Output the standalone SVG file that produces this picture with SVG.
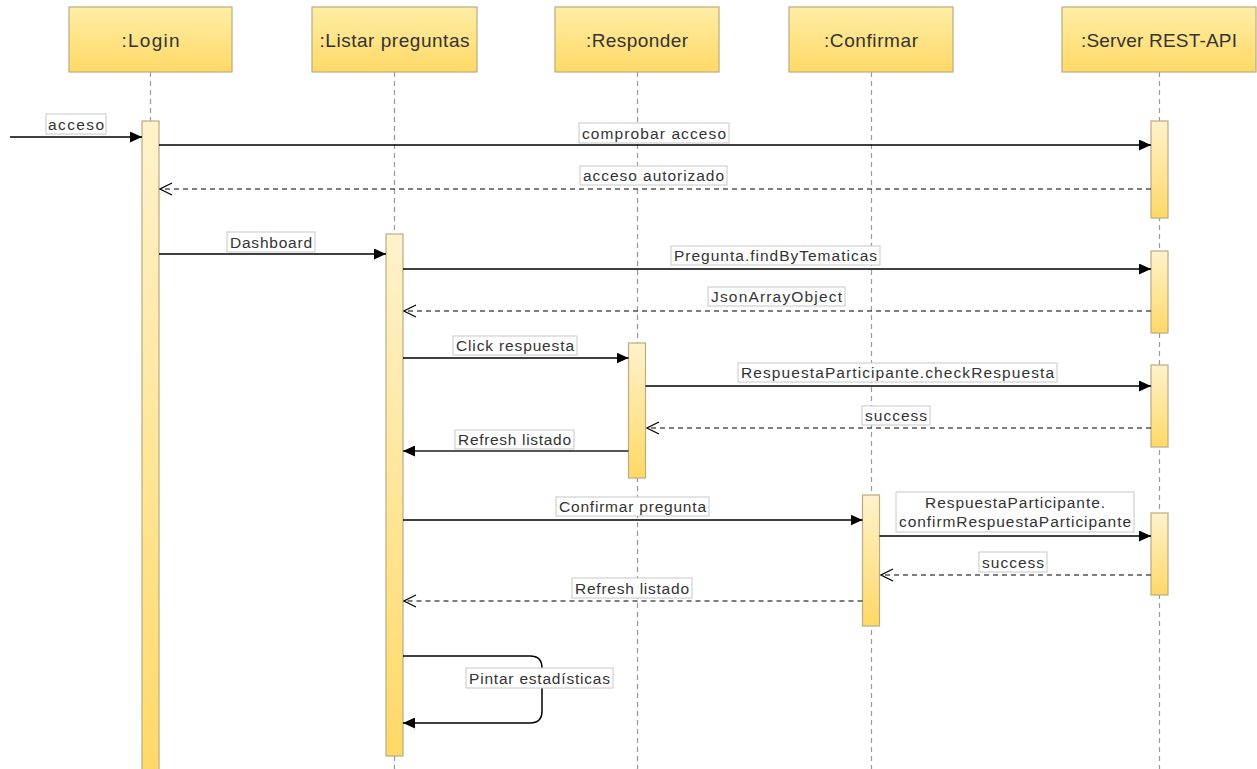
<svg xmlns="http://www.w3.org/2000/svg" width="1257" height="769" viewBox="0 0 1257 769">
  <defs>
    <linearGradient id="hdrGrad" x1="0" y1="0" x2="0" y2="1">
      <stop offset="0" stop-color="#FFEDA6"/>
      <stop offset="1" stop-color="#FFD966"/>
    </linearGradient>
    <linearGradient id="barGrad" x1="0" y1="0" x2="0" y2="1">
      <stop offset="0" stop-color="#FFF2CC"/>
      <stop offset="1" stop-color="#FFD966"/>
    </linearGradient>
    <marker id="filled" markerUnits="userSpaceOnUse" markerWidth="13" markerHeight="11" refX="12" refY="5.5" orient="auto">
      <path d="M0,0 L12,5.5 L0,11 z" fill="#000"/>
    </marker>
    <marker id="open" markerUnits="userSpaceOnUse" markerWidth="14" markerHeight="14" refX="13" refY="7" orient="auto">
      <path d="M1,1 L13,7 L1,13" fill="none" stroke="#000" stroke-width="1.2"/>
    </marker>
    <style>
      .hdr { fill: url(#hdrGrad); stroke: #B9AC80; stroke-width: 1.2; }
      .hdrText { font-family: "Liberation Sans", Arial, sans-serif; font-size: 19px; fill: #333; text-anchor: middle; }
      .life { stroke: #999; stroke-width: 1.2; stroke-dasharray: 5 4; fill: none; }
      .bar { fill: url(#barGrad); stroke: #B9AC80; stroke-width: 1.2; }
      .msg { stroke: #000; stroke-width: 1.5; fill: none; marker-end: url(#filled); }
      .ret { stroke: #000; stroke-width: 1.2; stroke-dasharray: 5 4; fill: none; marker-end: url(#open); }
      .lblBox { fill: #fff; stroke: #C8C8C8; stroke-width: 1; }
      .lbl { font-family: "Liberation Sans", Arial, sans-serif; font-size: 15.5px; fill: #333; text-anchor: middle; }
    </style>
  </defs>

  <rect width="1257" height="769" fill="#fff"/>

  <!-- participants: header box, lifeline and activation bars -->
  <g id="login">
    <line class="life" x1="150.5" y1="72" x2="150.5" y2="769"/>
    <rect class="hdr" x="69" y="7" width="163" height="65"/>
    <text class="hdrText" x="150.5" y="47" textLength="58">:Login</text>
    <rect class="bar" x="142" y="121" width="17" height="660"/>
  </g>

  <g id="listar">
    <line class="life" x1="394.5" y1="72" x2="394.5" y2="769"/>
    <rect class="hdr" x="312" y="7" width="165" height="65"/>
    <text class="hdrText" x="394.5" y="47" textLength="150">:Listar preguntas</text>
    <rect class="bar" x="386" y="234" width="17" height="522"/>
  </g>

  <g id="responder">
    <line class="life" x1="637.5" y1="72" x2="637.5" y2="769"/>
    <rect class="hdr" x="555" y="7" width="164" height="65"/>
    <text class="hdrText" x="637" y="47" textLength="102">:Responder</text>
    <rect class="bar" x="628.5" y="343" width="17" height="135"/>
  </g>

  <g id="confirmar">
    <line class="life" x1="871.5" y1="72" x2="871.5" y2="769"/>
    <rect class="hdr" x="789" y="7" width="164" height="65"/>
    <text class="hdrText" x="871" y="47" textLength="94">:Confirmar</text>
    <rect class="bar" x="862.5" y="495" width="17" height="131"/>
  </g>

  <g id="server">
    <line class="life" x1="1159.5" y1="72" x2="1159.5" y2="769"/>
    <rect class="hdr" x="1062" y="7" width="194" height="65"/>
    <text class="hdrText" x="1159" y="47" textLength="156">:Server REST-API</text>
    <rect class="bar" x="1151" y="121" width="17" height="97"/>
    <rect class="bar" x="1151" y="251" width="17" height="82"/>
    <rect class="bar" x="1151" y="365" width="17" height="82"/>
    <rect class="bar" x="1151" y="513" width="17" height="82"/>
  </g>

  <!-- messages -->
  <g id="connectors">
    <line class="msg" x1="10" y1="137" x2="142" y2="137"/>
    <line class="msg" x1="159" y1="145" x2="1151" y2="145"/>
    <line class="ret" x1="1151" y1="189" x2="160" y2="189"/>
    <line class="msg" x1="159" y1="254" x2="386" y2="254"/>
    <line class="msg" x1="403" y1="269" x2="1151" y2="269"/>
    <line class="ret" x1="1151" y1="311" x2="404" y2="311"/>
    <line class="msg" x1="403" y1="358" x2="628.5" y2="358"/>
    <line class="msg" x1="645.5" y1="386" x2="1151" y2="386"/>
    <line class="ret" x1="1151" y1="428" x2="647" y2="428"/>
    <line class="msg" x1="628.5" y1="451" x2="403" y2="451" style="stroke:#555;stroke-width:2"/>
    <line class="msg" x1="403" y1="520" x2="862.5" y2="520"/>
    <line class="msg" x1="879.5" y1="536" x2="1151" y2="536"/>
    <line class="ret" x1="1151" y1="575" x2="881" y2="575"/>
    <line class="ret" x1="862.5" y1="601" x2="404" y2="601"/>
    <path class="msg" d="M403,656 H530 Q542,656 542,668 V711 Q542,723 530,723 H403"/>
  </g>

  <!-- message labels -->
  <g id="labels">
    <rect class="lblBox" x="46" y="114" width="60" height="20"/>
    <text class="lbl" x="76" y="129.5" textLength="56">acceso</text>

    <rect class="lblBox" x="579" y="123" width="150" height="20"/>
    <text class="lbl" x="654" y="138.5" textLength="144">comprobar acceso</text>

    <rect class="lblBox" x="580" y="166" width="147" height="19"/>
    <text class="lbl" x="653.5" y="181" textLength="141">acceso autorizado</text>

    <rect class="lblBox" x="227" y="232" width="88" height="20"/>
    <text class="lbl" x="271" y="247.5" textLength="82">Dashboard</text>

    <rect class="lblBox" x="671" y="246" width="209" height="19"/>
    <text class="lbl" x="775.5" y="261" textLength="203">Pregunta.findByTematicas</text>

    <rect class="lblBox" x="708" y="287" width="137" height="19"/>
    <text class="lbl" x="776.5" y="302" textLength="131">JsonArrayObject</text>

    <rect class="lblBox" x="453" y="336" width="124" height="19"/>
    <text class="lbl" x="515" y="351" textLength="118">Click respuesta</text>

    <rect class="lblBox" x="738" y="363" width="319" height="19"/>
    <text class="lbl" x="897.5" y="378" textLength="313">RespuestaParticipante.checkRespuesta</text>

    <rect class="lblBox" x="862" y="406" width="68" height="19"/>
    <text class="lbl" x="896" y="421" textLength="62">success</text>

    <rect class="lblBox" x="455" y="430" width="119" height="19"/>
    <text class="lbl" x="514.5" y="445" textLength="113">Refresh listado</text>

    <rect class="lblBox" x="556" y="497" width="153" height="19"/>
    <text class="lbl" x="632.5" y="512" textLength="147">Confirmar pregunta</text>

    <rect class="lblBox" x="896" y="492" width="238" height="40"/>
    <text class="lbl" x="1015" y="507.5" textLength="180">RespuestaParticipante.</text>
    <text class="lbl" x="1015" y="527" textLength="232">confirmRespuestaParticipante</text>

    <rect class="lblBox" x="979" y="552" width="68" height="20"/>
    <text class="lbl" x="1013" y="567.5" textLength="62">success</text>

    <rect class="lblBox" x="572" y="578" width="120" height="20"/>
    <text class="lbl" x="632" y="593.5" textLength="114">Refresh listado</text>

    <rect class="lblBox" x="466" y="668" width="147" height="20"/>
    <text class="lbl" x="539.5" y="683.5" textLength="141">Pintar estadísticas</text>
  </g>
</svg>
